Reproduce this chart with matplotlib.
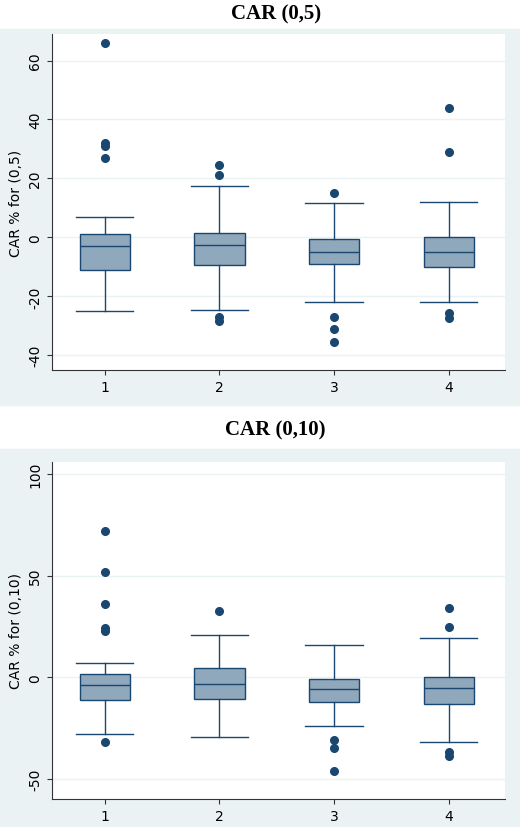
import matplotlib.pyplot as plt
from matplotlib.patches import Rectangle

groups = [1, 2, 3, 4]

# top panel: CAR (0,5)
top_whislo = [-25, -24.5, -22, -22]
top_q1 = [-11, -9.5, -9, -10]
top_med = [-3, -2.5, -5, -5]
top_q3 = [1, 1.5, -0.5, 0]
top_whishi = [7, 17.5, 11.5, 12]
top_fliers = [[27, 31, 32, 66], [21, 24.5, -27, -28.5],
              [15, -27, -31, -35.5], [29, 44, -25.5, -27.5]]

# bottom panel: CAR (0,10)
bot_whislo = [-28, -29.5, -24, -32]
bot_q1 = [-11, -10.5, -12, -13]
bot_med = [-4, -3.5, -6, -5.5]
bot_q3 = [1.5, 4.5, -1, 0]
bot_whishi = [7, 21, 16, 19.5]
bot_fliers = [[23, 24, 36, 52, 72, -32], [32.5],
              [-31, -35, -46], [24.5, 34, -37, -39]]

W, H = 520, 828
navy = '#1a476f'
bg = '#eaf2f3'

fig = plt.figure(figsize=(W / 100, H / 100), dpi=100)
fig.add_artist(Rectangle((0, 1 - 406 / H), 1, (406 - 30) / H,
                         transform=fig.transFigure, color=bg, zorder=-5))
fig.add_artist(Rectangle((0, 0), 1, (H - 450) / H,
                         transform=fig.transFigure, color=bg, zorder=-5))


def panel(rect, title, title_y, lo, q1, med, q3, hi, fl, ylim, ticks, ylabel):
    l, t, r, b = rect
    ax = fig.add_axes([l / W, 1 - b / H, (r - l) / W, (b - t) / H])
    ax.set_zorder(1)
    stats = [dict(whislo=lo[i], q1=q1[i], med=med[i], q3=q3[i],
                  whishi=hi[i], fliers=fl[i]) for i in range(len(groups))]
    ax.bxp(stats, positions=groups, widths=0.44, patch_artist=True,
           boxprops=dict(facecolor='#90a8bc', edgecolor=navy, linewidth=1),
           medianprops=dict(color=navy, linewidth=1),
           whiskerprops=dict(color=navy, linewidth=1),
           capprops=dict(color=navy, linewidth=1),
           capwidths=0.5,
           flierprops=dict(marker='o', markerfacecolor=navy,
                           markeredgecolor=navy, markersize=5.5))
    ax.set_xlim(0.54, 4.49)
    ax.set_ylim(*ylim)
    ax.set_yticks(ticks)
    ax.set_yticklabels([str(v) for v in ticks], rotation=90, va='center')
    ax.set_xticks(groups)
    ax.set_xticklabels([str(g) for g in groups])
    ax.grid(axis='y', color='#eaf2f3', linewidth=1)
    ax.set_axisbelow(True)
    for s in ['top', 'right']:
        ax.spines[s].set_visible(False)
    for s in ['left', 'bottom']:
        ax.spines[s].set_color('#333333')
    ax.tick_params(colors='#333333', labelsize=10, labelcolor='black')
    ax.set_ylabel(ylabel, fontsize=10)
    fig.text(0.53, 1 - title_y / H, title, ha='center', va='center',
             family='Liberation Serif', weight='bold', fontsize=15)
    return ax


panel((52, 35, 505, 371), 'CAR (0,5)', 14, top_whislo, top_q1, top_med,
      top_q3, top_whishi, top_fliers, (-45, 69), [-40, -20, 0, 20, 40, 60],
      'CAR % for (0,5)')
panel((52, 463, 505, 800), 'CAR (0,10)', 430, bot_whislo, bot_q1, bot_med,
      bot_q3, bot_whishi, bot_fliers, (-60, 106), [-50, 0, 50, 100],
      'CAR % for (0,10)')

fig.savefig('out.png', dpi=100)
